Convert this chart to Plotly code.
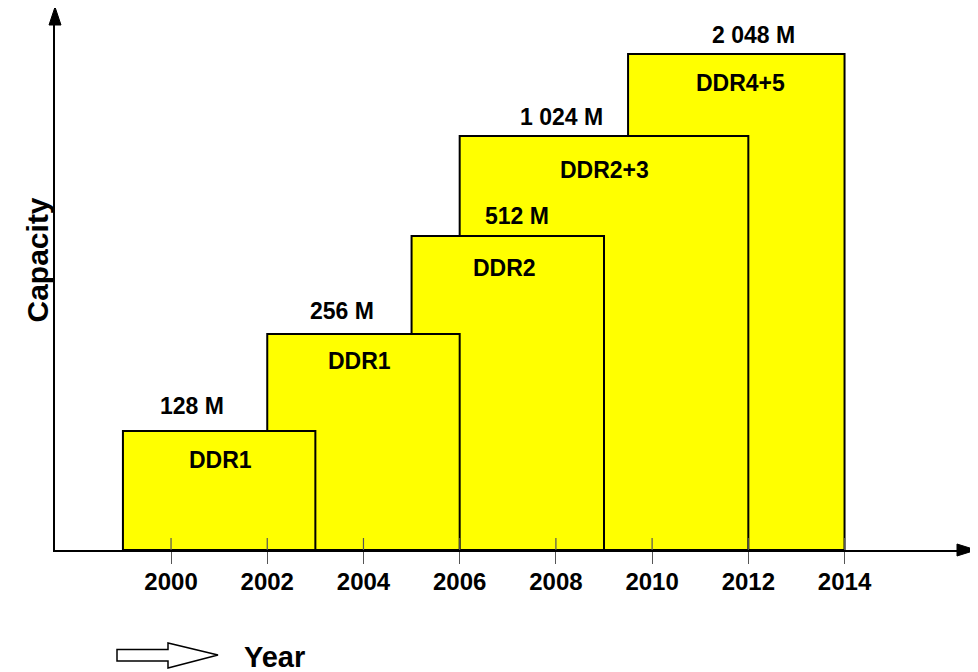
import plotly.graph_objects as go

# ---- data ----
start_year = [1999, 2002, 2005, 2006, 2009.5]
end_year = [2003, 2006, 2009, 2012, 2014]
capacity_labels = ["128 M", "256 M", "512 M", "1 024 M", "2 048 M"]
memory_types = ["DDR1", "DDR1", "DDR2", "DDR2+3", "DDR4+5"]
bar_height = [1.19, 2.16, 3.14, 4.14, 4.96]   # relative capacity level (no scale shown)
tick_years = [2000, 2002, 2004, 2006, 2008, 2010, 2012, 2014]

# ---- styling / layout (not data) ----
FONT = "Liberation Sans, Arial, sans-serif"
YELLOW = "#FFFF00"
value_dx = [-27, -21, 9, -43, 17]      # px offsets of capacity labels from bar centre
value_dy = [25, 23, 20, 19, 19]
type_dx = [1, -4, -3, 0, 4]
type_dy = [-29, -27, -32, -34, -29]

centers = [(s + e) / 2 for s, e in zip(start_year, end_year)]
widths = [e - s for s, e in zip(start_year, end_year)]

fig = go.Figure()

# later periods drawn first so earlier boxes sit on top
order = list(range(len(centers)))[::-1]
fig.add_trace(go.Bar(
    x=[centers[i] for i in order],
    y=[bar_height[i] for i in order],
    width=[widths[i] for i in order],
    base=0,
    marker=dict(color=YELLOW, line=dict(color="black", width=2)),
    hoverinfo="skip",
    showlegend=False,
))

# upper halves of the crossing tick marks
tx, ty = [], []
for t in tick_years:
    tx += [t, t, None]
    ty += [0, 0.12, None]
fig.add_trace(go.Scatter(x=tx, y=ty, mode="lines",
                         line=dict(color="#555555", width=1.2),
                         hoverinfo="skip", showlegend=False))

annotations = []
for i in range(len(centers)):
    annotations.append(dict(
        x=centers[i], y=bar_height[i], xref="x", yref="y",
        text=capacity_labels[i], showarrow=False,
        xanchor="center", yanchor="middle",
        xshift=value_dx[i], yshift=value_dy[i],
        font=dict(family=FONT, size=23, color="black", weight="bold"),
    ))
    annotations.append(dict(
        x=centers[i], y=bar_height[i], xref="x", yref="y",
        text=memory_types[i], showarrow=False,
        xanchor="center", yanchor="middle",
        xshift=type_dx[i], yshift=type_dy[i],
        font=dict(family=FONT, size=23, color="black", weight="bold"),
    ))

annotations.append(dict(
    x=0, y=0.5, xref="paper", yref="paper", xshift=-18, yshift=27,
    text="Capacity", textangle=-90, showarrow=False,
    xanchor="center", yanchor="middle",
    font=dict(family=FONT, size=30, color="black", weight="bold"),
))
annotations.append(dict(
    x=0, y=0, xref="paper", yref="paper", xshift=219, yshift=-107,
    text="Year", showarrow=False, xanchor="center", yanchor="middle",
    font=dict(family=FONT, size=29, color="black", weight="bold"),
))

shapes = [
    # y axis arrow head
    dict(type="path", xref="paper", yref="paper", xsizemode="pixel", ysizemode="pixel",
         xanchor=0, yanchor=1, path="M-6,0 L6,0 L0,18 Z",
         fillcolor="black", line=dict(color="black", width=1)),
    # x axis arrow head
    dict(type="path", xref="paper", yref="paper", xsizemode="pixel", ysizemode="pixel",
         xanchor=1, yanchor=0, path="M-3,6 L-3,-6 L16,0 Z",
         fillcolor="black", line=dict(color="black", width=1)),
    # hollow block arrow next to "Year"
    dict(type="path", xref="paper", yref="paper", xsizemode="pixel", ysizemode="pixel",
         xanchor=0, yanchor=0,
         path="M62,-99.5 L113,-99.5 L113,-93 L163,-105 L113,-118 L113,-111 L62,-111 Z",
         fillcolor="white", line=dict(color="black", width=1.5)),
]

# the page body adds an 8px margin, so the figure is sized/offset to compensate
fig.update_layout(
    width=970, height=664,
    margin=dict(l=47, r=18, t=17, b=122),
    paper_bgcolor="white", plot_bgcolor="white",
    barmode="overlay",
    annotations=annotations,
    shapes=shapes,
    showlegend=False,
    xaxis=dict(
        range=[1997.588, 2016.40],
        tickmode="array", tickvals=tick_years, ticktext=[str(t) for t in tick_years],
        ticks="outside", ticklen=12, tickwidth=1.2, tickcolor="#555555",
        showline=True, linecolor="black", linewidth=2,
        showgrid=False, zeroline=False,
        tickfont=dict(family=FONT, size=24, color="black", weight="bold"),
        ticklabelstandoff=-3,
    ),
    yaxis=dict(
        range=[0, 5.25],
        showticklabels=False, ticks="",
        showline=True, linecolor="black", linewidth=2,
        showgrid=False, zeroline=False,
    ),
)

fig.write_html("out.html")
